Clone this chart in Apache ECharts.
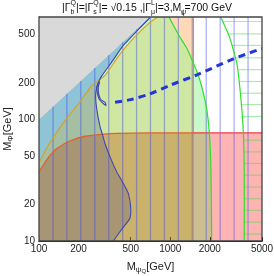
<!DOCTYPE html>
<html><head><meta charset="utf-8">
<script src="https://cdn.jsdelivr.net/npm/echarts@6/dist/echarts.min.js"></script>
<style>html,body{margin:0;padding:0;background:#fff}#c{width:274px;height:276px}</style>
</head><body><div id="c"></div>
<script>
// ---- data ----
const xTicks = [100, 200, 500, 1000, 2000, 5000];
const yTicks = [10, 20, 50, 100, 200, 500];
const xRange = [100, 5000];
const yRange = [10, 700];
const diagonal = [[100, 100], [700, 700]];
const blueBoundary = [[700,690],[560,540],[439,408],[360,300],[300,228],[285,205],[276,185],[270,158],[275,123],[292,87],[304,76],[318,63.5],[348,49.3],[391,37.1],[439,29.8],[479,24.7],[499,19.1],[493,15.4],[439,13],[368,10]];
const blueLoop = [[282,200],[276,185],[280,160],[290,145],[310,135],[324,131],[318,139],[298,145],[286,160],[283,185],[290,205]];
const orangeBoundary = [[100,43.5],[114,58],[140,82],[162,102],[205,140],[252,190],[318,231],[400,330],[493,435],[600,540],[700,630],[800,700]];
const orangeCut = 1500;
const redBoundary = [[100,37],[115,47],[132,56],[155,63],[177,67.6],[224,72.9],[300,75.7],[400,77],[700,77.6],[1500,77.6],[5000,77.6]];
const greenBoundary = [[977,700],[1165,493],[1340,385],[1489,297],[1655,223],[1791,164],[1903,119],[1989,77],[2042,38],[2067,10]];
const greenMeshBoundary = [[2421,700],[2799,493],[3003,385],[3237,279],[3436,158],[3597,82],[3661,38],[3661,10]];
const dashedLine = [[380,139],[500,146],[700,163],[1000,192],[1600,234],[3000,315],[5000,385]];
const crossOrangeBlue = [292, 215];
const crossRedBlue = [304, 76];
const crossGreenCut = [1500, 293];
const vMesh = [128,163,208,266,340,434,554,707,903,1153,1472,1880,2401,3066,3915];
const hMesh = [11.4,14.3,17.9,22.3,27.8,34.8,43.5,54.2,67.6,106,133,165,206,258,323,408,509,643];

// ---- derived shapes ----
const X0 = xRange[0], X1 = xRange[1], Y0 = yRange[0], Y1 = yRange[1];
const grayPoly = [diagonal[0], diagonal[1], [X0, Y1]];
const bluePoly = [[X0, Y0], diagonal[0], diagonal[1]].concat(blueBoundary);
const lightBluePoly = orangeBoundary.filter(p => p[1] < crossOrangeBlue[1])
  .concat([crossOrangeBlue])
  .concat(blueBoundary.filter(p => p[1] > crossOrangeBlue[1]).reverse())
  .concat([diagonal[1], diagonal[0]]);
const brownPoly = [[X0, Y0]].concat(redBoundary.filter(p => p[0] < crossRedBlue[0]))
  .concat([crossRedBlue]).concat(blueBoundary.filter(p => p[1] < crossRedBlue[1]));
const redPoly = [[X0, Y0]].concat(redBoundary).concat([[X1, Y0]]);
const peachPoly = [[X0, Y0]].concat(orangeBoundary).concat([[orangeCut, Y1], [orangeCut, Y0]]);
const greenPoly = [[X0, Y0], [X0, Y1]].concat(greenBoundary);
const yellowGreenPoly = [redBoundary[0]].concat(orangeBoundary)
  .concat(greenBoundary.filter(p => p[1] > crossGreenCut[1]))
  .concat([crossGreenCut])
  .concat(redBoundary.filter(p => p[0] <= orangeCut).reverse());

function xAtPhi(curve, phi) {
  for (let i = 0; i < curve.length - 1; i++) {
    const a = curve[i], b = curve[i + 1];
    if ((a[1] - phi) * (b[1] - phi) <= 0) {
      const t = (Math.log(phi) - Math.log(a[1])) / (Math.log(b[1]) - Math.log(a[1]));
      return Math.exp(Math.log(a[0]) + t * (Math.log(b[0]) - Math.log(a[0])));
    }
  }
  return curve[curve.length - 1][0];
}
const vLines = vMesh.map(m => [[m, Y0], [m, Math.min(m, Y1)]]);
const hLines = hMesh.map(f => [[xAtPhi(greenMeshBoundary, f), f], [X1, f]]);

function polySeries(pts, fill) {
  return { type: 'custom', coordinateSystem: 'cartesian2d', clip: true, silent: true, data: [[X0, Y0]],
    renderItem: (p, api) => ({ type: 'polygon', shape: { points: pts.map(q => api.coord(q)) }, style: { fill: fill } }) };
}
function lineSeries(lines, stroke, width, dash, smooth) {
  return { type: 'custom', coordinateSystem: 'cartesian2d', clip: true, silent: true, data: [[X0, Y0]],
    renderItem: (p, api) => ({ type: 'group', children: lines.map(l => ({
      type: 'polyline', shape: { points: l.map(q => api.coord(q)), smooth: smooth || 0 },
      style: { fill: 'none', stroke: stroke, lineWidth: width, lineDash: dash || null } })) }) };
}
const frameSeries = { type: 'custom', coordinateSystem: 'cartesian2d', clip: false, silent: true, data: [[X0, Y0]], z: 5,
  renderItem: (p, api) => {
    const a = api.coord([X0, Y1]), b = api.coord([X1, Y0]);
    return { type: 'rect', shape: { x: a[0], y: a[1], width: b[0] - a[0], height: b[1] - a[1] },
      style: { fill: 'none', stroke: '#444', lineWidth: 1.3 } };
  } };

const FONT = 'Liberation Sans';
const C = '#111';
const chart = echarts.init(document.getElementById('c'), null, { renderer: 'canvas' });
chart.setOption({
  animation: false,
  backgroundColor: '#fff',
  title: {
    text: '|Γ{sb|b}{sp|Q}|=|Γ{sb|s}{sp|Q}|= √0.15 ,|Γ{sb|μ}{sp|L}|=3,M{sb|ψ}{sb2|L}=700 GeV',
    left: 62, top: 0, padding: 0,
    textStyle: { fontFamily: FONT, fontSize: 10.5, fontWeight: 'normal', color: C, lineHeight: 16,
      rich: { sb: { fontSize: 7, verticalAlign: 'bottom', lineHeight: 16, width: 0, fontFamily: FONT, color: C },
              sp: { fontSize: 7, verticalAlign: 'top', lineHeight: 16, fontFamily: FONT, color: C },
              sb2: { fontSize: 5.5, verticalAlign: 'bottom', lineHeight: 16, fontFamily: FONT, color: C } } }
  },
  graphic: [{
    type: 'text', x: 8, y: 129, rotation: Math.PI / 2, silent: true,
    style: { text: '{m|M}{s|Φ}{m|[GeV]}', align: 'center', verticalAlign: 'middle',
      textAlign: 'center', textVerticalAlign: 'middle',
      rich: { m: { fontFamily: FONT, fontSize: 11, fill: '#222', color: '#222' },
              s: { fontFamily: FONT, fontSize: 8, fill: '#222', color: '#222', verticalAlign: 'bottom', lineHeight: 14 } } }
  }],
  grid: { left: 39, right: 12, top: 17, bottom: 35, containLabel: false, outerBoundsMode: 'none' },
  xAxis: {
    type: 'log', logBase: 10, min: X0, max: X1,
    name: '{m|M}{s|ψ}{s2|Q}{m|[GeV]}', nameLocation: 'middle', nameGap: 19,
    nameTextStyle: { rich: { m: { fontFamily: FONT, fontSize: 11, color: '#222' },
      s: { fontFamily: FONT, fontSize: 8, color: '#222', verticalAlign: 'bottom', lineHeight: 14 },
      s2: { fontFamily: FONT, fontSize: 6, color: '#222', verticalAlign: 'bottom', lineHeight: 14 } } },
    axisLine: { show: true, lineStyle: { color: '#000', width: 1 } },
    axisTick: { show: true, inside: true, length: 4, customValues: xTicks, lineStyle: { color: '#000' } },
    axisLabel: { customValues: xTicks, formatter: v => String(Math.round(v)), fontFamily: FONT, fontSize: 10, color: '#222', margin: 3 },
    splitLine: { show: false }, minorTick: { show: false }
  },
  yAxis: {
    type: 'log', logBase: 10, min: Y0, max: Y1,
    axisLine: { show: true, lineStyle: { color: '#000', width: 1 } },
    axisTick: { show: true, inside: true, length: 4, customValues: yTicks, lineStyle: { color: '#000' } },
    axisLabel: { customValues: yTicks, formatter: v => String(Math.round(v)), fontFamily: FONT, fontSize: 10, color: '#222', margin: 4 },
    splitLine: { show: false }, minorTick: { show: false }
  },
  series: [
    polySeries(redPoly, 'rgba(255,0,0,0.294)'),
    polySeries(peachPoly, 'rgba(255,125,18,0.30)'),
    polySeries(greenPoly, 'rgba(38,227,38,0.24)'),
    polySeries(yellowGreenPoly, '#cfe7a3'),
    polySeries(bluePoly, '#a5bfa3'),
    polySeries(lightBluePoly, '#8fc4d6'),
    polySeries(brownPoly, '#a89574'),
    polySeries(grayPoly, '#d9d9d9'),
    lineSeries(vLines, 'rgba(60,70,235,0.42)', 1.3),
    lineSeries(hLines, 'rgba(60,220,60,0.45)', 1.2),
    lineSeries([orangeBoundary], '#d9a02a', 1.2, null, 0.2),
    lineSeries([[[orangeCut, Y0], [orangeCut, Y1]]], '#dd9a30', 1.3),
    lineSeries([redBoundary.filter(p => p[0] <= orangeCut)], '#e0602e', 1.3, null, 0.2),
    lineSeries([redBoundary.filter(p => p[0] >= orangeCut)], '#e83c3c', 1.3),
    lineSeries([greenBoundary, greenMeshBoundary], '#2ee02e', 1.2, null, 0.3),
    lineSeries([blueBoundary, blueLoop], '#3f47b0', 1.1, null, 0.2),
    lineSeries([dashedLine], '#2436d6', 3, [7, 5], 0.3),
    frameSeries
  ]
});
</script></body></html>
